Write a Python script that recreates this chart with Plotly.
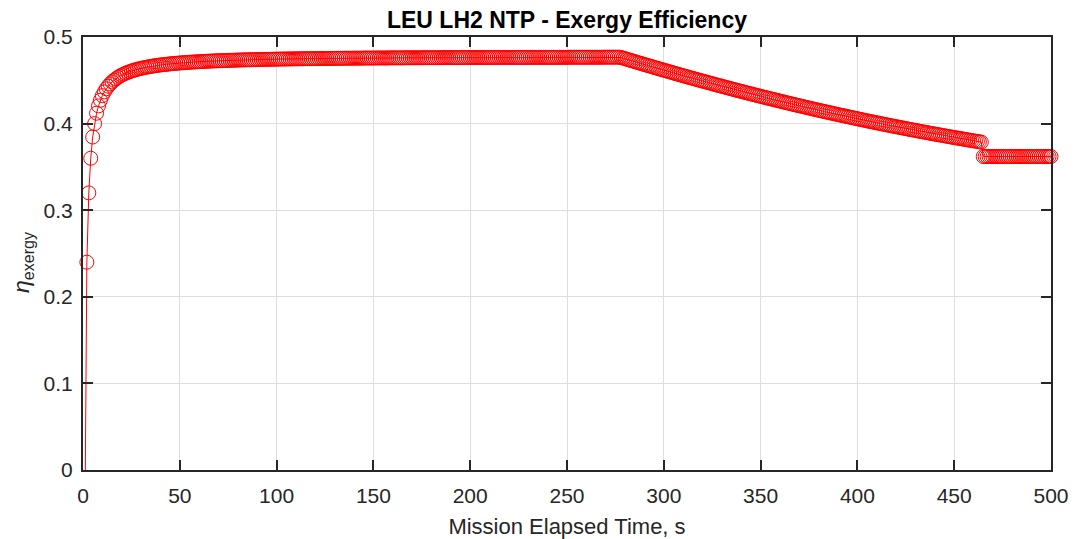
import plotly.graph_objects as go

# Exergy efficiency, one sample per second of mission time
eta_startup = [
    -0.06, 0.2400, 0.3200, 0.3600, 0.3845, 0.4000, 0.4120, 0.4205, 0.4270, 0.4323,
    0.4366, 0.4402, 0.4432, 0.4458, 0.4481, 0.4501, 0.4518, 0.4534, 0.4548, 0.4560,
    0.4571, 0.4581, 0.4591, 0.4599, 0.4607, 0.4614, 0.4621, 0.4627, 0.4633, 0.4638,
    0.4643, 0.4648, 0.4652, 0.4656, 0.4660, 0.4664, 0.4668, 0.4671, 0.4674, 0.4677,
    0.4680, 0.4682, 0.4685, 0.4687, 0.4690, 0.4692, 0.4694, 0.4696, 0.4698, 0.4700,
    0.4702, 0.4703, 0.4705, 0.4707, 0.4708, 0.4710, 0.4711, 0.4712, 0.4714, 0.4715,
    0.4716, 0.4717, 0.4719, 0.4720, 0.4721, 0.4722, 0.4723, 0.4724, 0.4725, 0.4726,
    0.4727, 0.4727, 0.4728, 0.4729, 0.4730, 0.4731, 0.4731, 0.4732, 0.4733, 0.4734,
    0.4734, 0.4735, 0.4736, 0.4736, 0.4737, 0.4737, 0.4738, 0.4738, 0.4739, 0.4740,
    0.4740, 0.4741, 0.4741, 0.4742, 0.4742, 0.4742, 0.4743, 0.4743, 0.4744, 0.4744,
    0.4745, 0.4745, 0.4746, 0.4746, 0.4746, 0.4747, 0.4747, 0.4747, 0.4748, 0.4748,
    0.4748, 0.4749, 0.4749, 0.4749, 0.4750, 0.4750, 0.4750, 0.4750, 0.4751, 0.4751,
    0.4751, 0.4751, 0.4752, 0.4752, 0.4752, 0.4752, 0.4753, 0.4753, 0.4753, 0.4753,
    0.4754, 0.4754, 0.4754, 0.4754, 0.4755, 0.4755, 0.4755, 0.4755, 0.4755, 0.4756,
    0.4756, 0.4756, 0.4756, 0.4756, 0.4757, 0.4757, 0.4757, 0.4757, 0.4757, 0.4757,
    0.4758, 0.4758, 0.4758, 0.4758, 0.4758, 0.4758, 0.4758, 0.4759, 0.4759, 0.4759,
    0.4759, 0.4759, 0.4759, 0.4759, 0.4759, 0.4760, 0.4760, 0.4760, 0.4760, 0.4760,
    0.4760, 0.4760, 0.4760, 0.4760, 0.4760, 0.4761, 0.4761, 0.4761, 0.4761, 0.4761,
    0.4761, 0.4761, 0.4761, 0.4761, 0.4761, 0.4762, 0.4762, 0.4762, 0.4762, 0.4762,
    0.4762, 0.4762, 0.4762, 0.4762, 0.4762, 0.4763, 0.4763, 0.4763, 0.4763, 0.4763,
    0.4763, 0.4763, 0.4763, 0.4763, 0.4763, 0.4763, 0.4763, 0.4763, 0.4763, 0.4763,
    0.4764, 0.4764, 0.4764, 0.4764, 0.4764, 0.4764, 0.4764, 0.4764, 0.4764, 0.4764,
    0.4764, 0.4764, 0.4764, 0.4764, 0.4764, 0.4764, 0.4764, 0.4764, 0.4764, 0.4764,
    0.4765, 0.4765, 0.4765, 0.4765, 0.4765, 0.4765, 0.4765, 0.4765, 0.4765, 0.4765,
    0.4765, 0.4765, 0.4765, 0.4765, 0.4765, 0.4765, 0.4765, 0.4765, 0.4765, 0.4765,
    0.4766, 0.4766, 0.4766, 0.4766, 0.4766, 0.4766, 0.4766, 0.4766, 0.4766, 0.4766,
    0.4766, 0.4766, 0.4766, 0.4766, 0.4766, 0.4766, 0.4766, 0.4766, 0.4767, 0.4767,
    0.4767, 0.4767, 0.4767, 0.4767, 0.4767, 0.4767, 0.4767,
]

eta_throttle = [
    0.4763, 0.4756, 0.4750, 0.4743, 0.4736, 0.4729, 0.4723, 0.4716, 0.4709, 0.4702,
    0.4696, 0.4689, 0.4682, 0.4676, 0.4669, 0.4663, 0.4656, 0.4649, 0.4643, 0.4636,
    0.4630, 0.4623, 0.4617, 0.4611, 0.4604, 0.4598, 0.4591, 0.4585, 0.4578, 0.4572,
    0.4566, 0.4559, 0.4553, 0.4547, 0.4541, 0.4534, 0.4528, 0.4522, 0.4516, 0.4509,
    0.4503, 0.4497, 0.4491, 0.4485, 0.4479, 0.4473, 0.4467, 0.4461, 0.4454, 0.4448,
    0.4442, 0.4437, 0.4431, 0.4425, 0.4419, 0.4413, 0.4407, 0.4401, 0.4395, 0.4389,
    0.4383, 0.4378, 0.4372, 0.4366, 0.4360, 0.4355, 0.4349, 0.4343, 0.4338, 0.4332,
    0.4326, 0.4321, 0.4315, 0.4309, 0.4304, 0.4298, 0.4293, 0.4287, 0.4282, 0.4276,
    0.4271, 0.4265, 0.4260, 0.4254, 0.4249, 0.4243, 0.4238, 0.4233, 0.4227, 0.4222,
    0.4217, 0.4211, 0.4206, 0.4201, 0.4196, 0.4190, 0.4185, 0.4180, 0.4175, 0.4170,
    0.4164, 0.4159, 0.4154, 0.4149, 0.4144, 0.4139, 0.4134, 0.4129, 0.4124, 0.4119,
    0.4114, 0.4109, 0.4104, 0.4099, 0.4094, 0.4090, 0.4085, 0.4080, 0.4075, 0.4070,
    0.4065, 0.4061, 0.4056, 0.4051, 0.4046, 0.4042, 0.4037, 0.4032, 0.4027, 0.4023,
    0.4018, 0.4014, 0.4009, 0.4005, 0.4000, 0.3995, 0.3991, 0.3986, 0.3982, 0.3977,
    0.3973, 0.3968, 0.3964, 0.3960, 0.3955, 0.3951, 0.3947, 0.3942, 0.3938, 0.3933,
    0.3929, 0.3925, 0.3921, 0.3917, 0.3912, 0.3908, 0.3904, 0.3900, 0.3896, 0.3891,
    0.3887, 0.3883, 0.3879, 0.3875, 0.3871, 0.3867, 0.3863, 0.3859, 0.3855, 0.3851,
    0.3847, 0.3843, 0.3839, 0.3835, 0.3832, 0.3828, 0.3824, 0.3820, 0.3816, 0.3812,
    0.3808, 0.3805, 0.3801, 0.3797, 0.3794, 0.3790, 0.3786,
]

eta_tail = [
    0.3620, 0.3620, 0.3620, 0.3620, 0.3620, 0.3620, 0.3620, 0.3620, 0.3620, 0.3620,
    0.3620, 0.3620, 0.3620, 0.3620, 0.3620, 0.3620, 0.3620, 0.3620, 0.3620, 0.3620,
    0.3620, 0.3620, 0.3620, 0.3620, 0.3620, 0.3620, 0.3620, 0.3620, 0.3620, 0.3620,
    0.3620, 0.3620, 0.3620, 0.3620, 0.3620, 0.3620,
]

eta_exergy = eta_startup + eta_throttle + eta_tail
time_s = list(range(1, len(eta_exergy) + 1))

x_ticks = [0, 50, 100, 150, 200, 250, 300, 350, 400, 450, 500]
y_ticks = [0, 0.1, 0.2, 0.3, 0.4, 0.5]
y_tick_labels = ["0", "0.1", "0.2", "0.3", "0.4", "0.5"]

AX = "#262626"
GRID = "#dedede"
FONT = "Liberation Sans, Arial, Helvetica, sans-serif"

# points whose value lies inside the axes get a marker (MATLAB draws those unclipped)
vis_t = [t for t, v in zip(time_s, eta_exergy) if v >= 0]
vis_v = [v for v in eta_exergy if v >= 0]

fig = go.Figure()
fig.add_trace(go.Scatter(
    x=time_s, y=eta_exergy,
    mode="lines",
    line=dict(color="#ff0000", width=1),
    showlegend=False, hoverinfo="skip",
))
fig.add_trace(go.Scatter(
    x=vis_t, y=vis_v,
    mode="markers",
    marker=dict(symbol="circle-open", size=14, color="#ff0000",
                line=dict(color="#ff0000", width=1)),
    cliponaxis=False,
    showlegend=False,
))

axis_common = dict(
    showline=True, linecolor=AX, linewidth=2, mirror="ticks",
    ticks="inside", ticklen=10, tickwidth=2, tickcolor=AX,
    showgrid=True, gridcolor=GRID, gridwidth=1,
    zeroline=False,
    tickfont=dict(family=FONT, size=21, color=AX),
)

fig.update_xaxes(
    range=[0, 500], tickvals=x_ticks, ticklabelstandoff=6,
    title=dict(text="Mission Elapsed Time, s",
               font=dict(family=FONT, size=22, color=AX), standoff=14),
    **axis_common,
)
fig.update_yaxes(
    range=[0, 0.5], tickvals=y_ticks, ticktext=y_tick_labels, ticklabelstandoff=4,
    **axis_common,
)

fig.add_annotation(
    text="<i>η</i><sub>exergy</sub>",
    textangle=-90,
    xref="paper", yref="paper",
    x=-61 / 968, y=(470 - 262) / 433,
    xanchor="center", yanchor="middle",
    showarrow=False,
    font=dict(family=FONT, size=23, color=AX),
)

fig.update_layout(
    width=1074, height=539,
    margin=dict(l=83, r=23, t=37, b=69, autoexpand=False),
    paper_bgcolor="white", plot_bgcolor="white",
    title=dict(text="<b>LEU LH2 NTP - Exergy Efficiency</b>",
               x=(83 + (1074 - 23 - 83) / 2) / 1074, xanchor="center",
               yref="container", y=1 - 20 / 539, yanchor="middle",
               font=dict(family=FONT, size=23, color="#000000")),
)

fig.write_html("out.html")
